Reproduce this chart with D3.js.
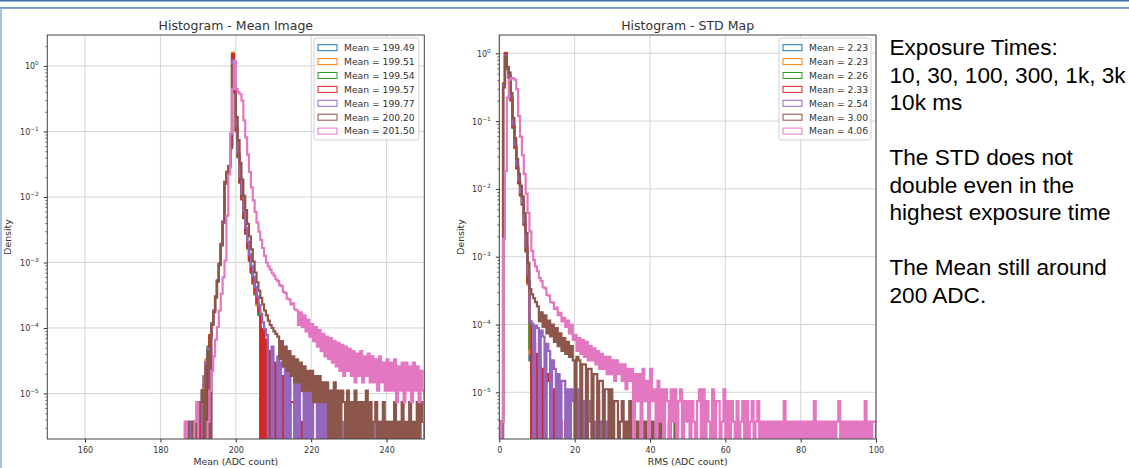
<!DOCTYPE html>
<html>
<head>
<meta charset="utf-8">
<script src="https://cdn.jsdelivr.net/npm/d3@7"></script>
<style>
  body { margin: 0; background: #fff; }
  svg { display: block; }
  .mpl text { font-family: "DejaVu Sans", sans-serif; fill: #333; }
  .notes { font-family: "Liberation Sans", Arial, sans-serif; font-size: 22.6px; fill: #000; }
</style>
</head>
<body>
<div id="slide"></div>
<script>
// density of one pixel count in a 0.5 ADC bin (lowest visible level)
var countUnit = 3.7e-6;

var seriesColors = ["#1f77b4", "#ff7f0e", "#2ca02c", "#d62728", "#9467bd", "#8c564b", "#e377c2"];

// ---- Histogram - Mean Image : bins of 0.5 ADC starting at 186 ----
var meanBinStart = 186, meanBinWidth = 0.5;
var meanLegendValues = [199.49, 199.51, 199.54, 199.57, 199.77, 200.20, 201.50];
var meanXTicks = [160, 180, 200, 220, 240];

var meanBlue = [0,0,0,0,0,1,0,1,0,2, 3,0,8,13,20,30,48,80,140,250, 500,1100,4500,6500,8000,16000,400000,110000,28000,11000,
  4500,2500,1300,750,450,290,190,130,90,62, 44,0,22,0,11,0,5,0,2,0, 1,0,1];
var meanOrange = [0,0,0,0,1,0,0,1,0,2, 0,4,9,0,21,31,50,78,145,245, 510,1080,4400,6600,8100,17000,430000,105000,27000,11500,
  4400,2450,1320,740,460,285,195,128,92,60, 45,0,21,0,12,0,4,0,3,0, 1,0,1];
var meanGreen = [0,0,0,0,0,0,1,0,1,1, 3,5,0,14,19,32,47,82,138,255, 490,1120,4600,6400,7900,16500,410000,108000,28500,11200,
  4600,2550,1280,760,445,295,188,132,88,64, 43,0,24,0,13,0,6,0,4,2, 0,3,0,1,0,1];
var meanRed = [0,0,0,0,0,0,0,1,0,2, 3,5,8,0,21,30,49,80,142,248, 505,1100,4550,6500,8000,16200,405000,109000,28200,11300,
  4550,2520,1310,760,455,292,195,134,92,66, 48,0,26,0,18,0,12,0,8,0, 7,0,5,0,4,3,0,2,2,0, 1,0,1,0,1];
var meanPurple = [0,0,0,1,0,0,1,0,1,2, 0,5,8,13,0,31,50,82,145,255, 510,1100,4400,6300,7800,15500,330000,130000,33000,13000,
  5500,3000,1600,920,560,360,240,165,115,82, 60,44,33,26,21,0,0,14,0,0, 10,0,8,7,0,6,0,5,5,0,
  4,0,4,3,0,3,0,3,0,2, 3,0,2,0,3,0,2,0,2,0, 1,0,2,0,0,1,0,1,0,2, 0,1,0,0,1,0,1,0,0,1,
  0,0,1,0,1,0,0,0,1,0, 0,1,0,0,0,1];
var meanBrown = [0,1,1,0,0,1,1,0,1,2, 3,0,7,12,0,30,47,80,140,260, 520,1150,4300,6200,7600,15000,280000,140000,45000,20000,
  9000,5000,2800,1700,1050,680,430,280,190,135, 100,78,62,50,42,35,30,27,24,22, 20,9,17,7,14,6,12,5,10,4,
  9,4,8,3,7,3,6,3,6,2, 5,2,5,2,4,2,4,0,3,0, 4,0,3,0,3,2,0,3,0,2, 0,3,0,2,0,2,0,3,0,2,
  0,1,2,0,1,0,2,0,1,0, 1,0,2,0,1,0,2,0,1,0, 2,0,1,0,2,0,2,1];
var meanPink = [0,1,0,0,0,0,1,2,0,0, 0,0,0,1,3,6,10,18,28,50, 90,160,290,1400,6000,25000,120000,320000,120000,108000,
  100000,80000,40000,22000,12000,6500,3800,2400,1600,1100, 800,600,450,340,270,235,210,185,170,150,
  140,122,118,96,92,76,74,62,64,52, 50,30,47,28,42,24,36,20,31,17, 28,14,25,12,22,10,20,9,19,8,
  17,7,16,6,15,5,14,6,13,5, 12,4,11,5,12,4,10,5,11,4, 10,4,9,3,10,4,8,3,9,3,
  8,3,9,2,7,3,8,2,8,3, 7,2,8,3,7,2,6,3];

// ---- Histogram - STD Map : bins of 0.5 ADC starting at 0 ----
var stdBinStart = 0, stdBinWidth = 0.5;
var stdLegendValues = [2.23, 2.23, 2.26, 2.33, 2.54, 3.00, 4.06];
var stdXTicks = [0, 20, 40, 60, 80, 100];

var stdBlue = [0,1,95000,270000,160000,120000,55000,22000,11000,5500, 3300,2200,1600,800,330,110,8,0,2,0, 1];
var stdOrange = [0,1,98000,275000,158000,118000,54000,22500,10800,5400, 3350,2150,1620,790,340,105,10,0,3,0, 1,0,0,1];
var stdGreen = [0,0,96000,268000,162000,121000,56000,21500,11200,5600, 3250,2250,1580,820,320,115,12,5,0,5, 2,0,1];
var stdRed = [0,1,94000,272000,161000,119000,55500,22200,11100,5450, 3320,2180,1610,805,335,112,30,0,14,0,
  10,8,0,6,0,5,4,0,3,0, 2,0,1,0,0,1];
var stdPurple = [0,0,90000,250000,165000,125000,60000,24000,12000,6000, 3600,2400,1700,880,380,150,30,28,0,26,
  24,0,22,18,0,14,11,0,8,6, 0,5,0,4,4,0,3,0,3,2, 0,3,0,2,0,2,0,1,2,0, 1,0,2,0,1,0,0,1];
var stdBrown = [0,1,85000,240000,170000,140000,70000,30000,15000,7500, 4500,3000,2100,1200,600,220,90,75,66,58,
  50,30,41,25,37,20,31,18,27,15, 24,13,20,11,17,10,15,9,13,8, 0,9,8,0,7,7,0,6,6,0, 5,5,0,4,4,0,3,3,0,3,
  0,2,2,0,1,2,0,1,0,2, 0,1,0,1,0,0,1,0,1,0, 0,1,0,0,1,0,1,0,0,0, 1,0,0,1,0,0,0,1];
var stdPink = [0,1,500,5000,60000,110000,115000,116000,110000,80000, 32000,16000,8500,4500,2300,1200,640,330,240,195,
  165,132,118,96,92,74,72,58,57,46, 48,37,40,30,34,25,31,20,27,16, 19,11,17,10,16,9,15,8,13,8,
  12,7,11,6,10,6,9,5,9,5, 8,4,8,5,7,4,7,3,6,4, 6,0,5,2,5,0,6,2,4,0, 6,2,3,0,4,1,3,0,3,2,
  0,3,1,3,0,2,3,0,2,1, 2,0,2,1,0,2,3,0,3,0, 2,1,0,3,0,2,2,0,1,3, 0,2,0,2,1,0,2,0,1,2,
  0,2,0,1,2,0,1,2,0,1, 0,1,0,1,0,1,0,1,0,1, 0,2,0,1,0,1,0,1,0,1, 0,1,0,1,0,1,0,2,0,1,
  0,1,0,1,0,1,0,1,0,1, 2,0,1,0,1,0,1,0,1,0, 1,0,1,0,2,0,1,0,1,1];

var yTickExponents = [-5, -4, -3, -2, -1, 0];

var noteLines = ["Exposure Times:", "10, 30, 100, 300, 1k, 3k", "10k ms", "",
  "The STD does not", "double even in the", "highest exposure time", "",
  "The Mean still around", "200 ADC."];

var svgWidth = 1129;
var svgHeight = 468;

var svg = d3.select("#slide")
    .append("svg")
    .attr("width", svgWidth)
    .attr("height", svgHeight);

// slide frame
svg.append("rect").attr("x", 0).attr("y", 0).attr("width", svgWidth).attr("height", 1.5).attr("fill", "#3a6bb3");
svg.append("rect").attr("x", 0).attr("y", 7.3).attr("width", svgWidth).attr("height", 1.3).attr("fill", "#3a6bb3");
svg.append("rect").attr("x", 0).attr("y", 8.6).attr("width", 2).attr("height", svgHeight).attr("fill", "#a9c1e3");

function drawPanel(cfg) {
    var g = svg.append("g").attr("class", "mpl");

    var x = d3.scaleLinear().domain(cfg.xDomain).range([cfg.left, cfg.right]);
    var y = d3.scaleLog().domain(cfg.yDomain).range([cfg.bottom, cfg.top]);
    var decadeValues = yTickExponents.map(function (e) { return Math.pow(10, e); });

    // grid
    g.append("g").selectAll("line")
        .data(cfg.xTicks)
        .enter()
        .append("line")
        .attr("x1", function (d) { return x(d); })
        .attr("x2", function (d) { return x(d); })
        .attr("y1", cfg.top)
        .attr("y2", cfg.bottom)
        .attr("stroke", "#d5d5d5")
        .attr("stroke-width", 1);
    g.append("g").selectAll("line")
        .data(decadeValues)
        .enter()
        .append("line")
        .attr("x1", cfg.left)
        .attr("x2", cfg.right)
        .attr("y1", function (d) { return y(d); })
        .attr("y2", function (d) { return y(d); })
        .attr("stroke", "#d5d5d5")
        .attr("stroke-width", 1);

    // step histograms
    var clipId = "clip-" + cfg.name;
    g.append("clipPath").attr("id", clipId)
        .append("rect")
        .attr("x", cfg.left).attr("y", cfg.top)
        .attr("width", cfg.right - cfg.left).attr("height", cfg.bottom - cfg.top);

    var zeroLevel = cfg.yDomain[0] / 10;
    var line = d3.line()
        .x(function (p) { return x(p[0]); })
        .y(function (p) { return y(p[1]); });

    var plot = g.append("g").attr("clip-path", "url(#" + clipId + ")");
    cfg.series.forEach(function (counts, k) {
        var pts = [[cfg.binStart, zeroLevel]];
        counts.forEach(function (c, i) {
            var x0 = cfg.binStart + i * cfg.binWidth;
            var dens = c > 0 ? c * countUnit : zeroLevel;
            pts.push([x0, dens], [x0 + cfg.binWidth, dens]);
        });
        pts.push([cfg.binStart + counts.length * cfg.binWidth, zeroLevel]);
        plot.append("path")
            .attr("d", line(pts))
            .attr("fill", "none")
            .attr("stroke", seriesColors[k])
            .attr("stroke-width", 2.2);
    });

    // axes
    var bottomAxis = d3.axisBottom(x).tickValues(cfg.xTicks).tickSize(3.5).tickPadding(4.5);
    var xg = g.append("g")
        .attr("transform", `translate(0, ${cfg.bottom})`)
        .call(bottomAxis);
    xg.select(".domain").remove();
    xg.selectAll("line").attr("stroke", "#333");
    xg.selectAll("text").style("font-size", "8px").attr("fill", "#333");

    var minorValues = [];
    for (var e = -6; e <= 0; e++) {
        for (var m = 2; m <= 9; m++) {
            var v = m * Math.pow(10, e);
            if (v > cfg.yDomain[0] && v < cfg.yDomain[1]) minorValues.push(v);
        }
    }
    var leftAxis = d3.axisLeft(y).tickValues(decadeValues).tickSize(3.5).tickFormat("");
    var minorAxis = d3.axisLeft(y).tickValues(minorValues).tickSize(2).tickFormat("");
    var yg = g.append("g").attr("transform", `translate(${cfg.left}, 0)`).call(leftAxis);
    var mg = g.append("g").attr("transform", `translate(${cfg.left}, 0)`).call(minorAxis);
    yg.select(".domain").remove();
    mg.select(".domain").remove();
    yg.selectAll("line").attr("stroke", "#333");
    mg.selectAll("line").attr("stroke", "#333").attr("stroke-width", 0.7);

    yTickExponents.forEach(function (e) {
        var t = g.append("text")
            .attr("x", cfg.left - 8.5)
            .attr("y", y(Math.pow(10, e)) + 3.5)
            .attr("text-anchor", "end")
            .style("font-size", "8px");
        t.append("tspan").text("10");
        t.append("tspan")
            .attr("dy", -4)
            .style("font-size", "5.8px")
            .text(e === 0 ? "0" : "\u2212" + (-e));
    });

    // box
    g.append("rect")
        .attr("x", cfg.left).attr("y", cfg.top)
        .attr("width", cfg.right - cfg.left).attr("height", cfg.bottom - cfg.top)
        .attr("fill", "none")
        .attr("stroke", "#444")
        .attr("stroke-width", 1);

    // titles and labels
    g.append("text")
        .attr("x", (cfg.left + cfg.right) / 2)
        .attr("y", 30)
        .attr("text-anchor", "middle")
        .style("font-size", "12.5px")
        .text(cfg.title);
    g.append("text")
        .attr("x", (cfg.left + cfg.right) / 2)
        .attr("y", 465)
        .attr("text-anchor", "middle")
        .style("font-size", "9.3px")
        .text(cfg.xLabel);
    g.append("text")
        .attr("transform", `translate(${cfg.yLabelX}, ${(cfg.top + cfg.bottom) / 2}) rotate(-90)`)
        .attr("text-anchor", "middle")
        .style("font-size", "9.3px")
        .text("Density");

    // legend
    var legend = g.append("g");
    legend.append("rect")
        .attr("x", cfg.legendX).attr("y", 38)
        .attr("width", cfg.legendW).attr("height", 102)
        .attr("rx", 2.5)
        .attr("fill", "white").attr("fill-opacity", 0.85)
        .attr("stroke", "#d0d0d0");
    cfg.legendValues.forEach(function (v, k) {
        var cy = 47.7 + k * 13.9;
        legend.append("rect")
            .attr("x", cfg.legendX + 4).attr("y", cy - 3)
            .attr("width", 19).attr("height", 6)
            .attr("fill", "none")
            .attr("stroke", seriesColors[k])
            .attr("stroke-width", 1);
        legend.append("text")
            .attr("x", cfg.legendX + 30)
            .attr("y", cy + 3.3)
            .style("font-size", "9.2px")
            .text("Mean = " + v.toFixed(2));
    });
}

drawPanel({
    name: "mean",
    left: 47.3, right: 424.3, top: 35, bottom: 439,
    xDomain: [150, 250], yDomain: [2.02e-6, 2.97],
    xTicks: meanXTicks,
    binStart: meanBinStart, binWidth: meanBinWidth,
    series: [meanBlue, meanOrange, meanGreen, meanRed, meanPurple, meanBrown, meanPink],
    legendValues: meanLegendValues, legendX: 314, legendW: 105,
    title: "Histogram - Mean Image", xLabel: "Mean (ADC count)", yLabelX: 11
});

drawPanel({
    name: "std",
    left: 499.3, right: 876, top: 35, bottom: 439,
    xDomain: [0, 100], yDomain: [2.05e-6, 1.86],
    xTicks: stdXTicks,
    binStart: stdBinStart, binWidth: stdBinWidth,
    series: [stdBlue, stdOrange, stdGreen, stdRed, stdPurple, stdBrown, stdPink],
    legendValues: stdLegendValues, legendX: 779, legendW: 92,
    title: "Histogram - STD Map", xLabel: "RMS (ADC count)", yLabelX: 464
});

// slide notes
var notes = svg.append("text").attr("class", "notes");
noteLines.forEach(function (line, i) {
    notes.append("tspan")
        .attr("x", 889.5)
        .attr("y", 55 + i * 27.5)
        .text(line);
});
</script>
</body>
</html>
